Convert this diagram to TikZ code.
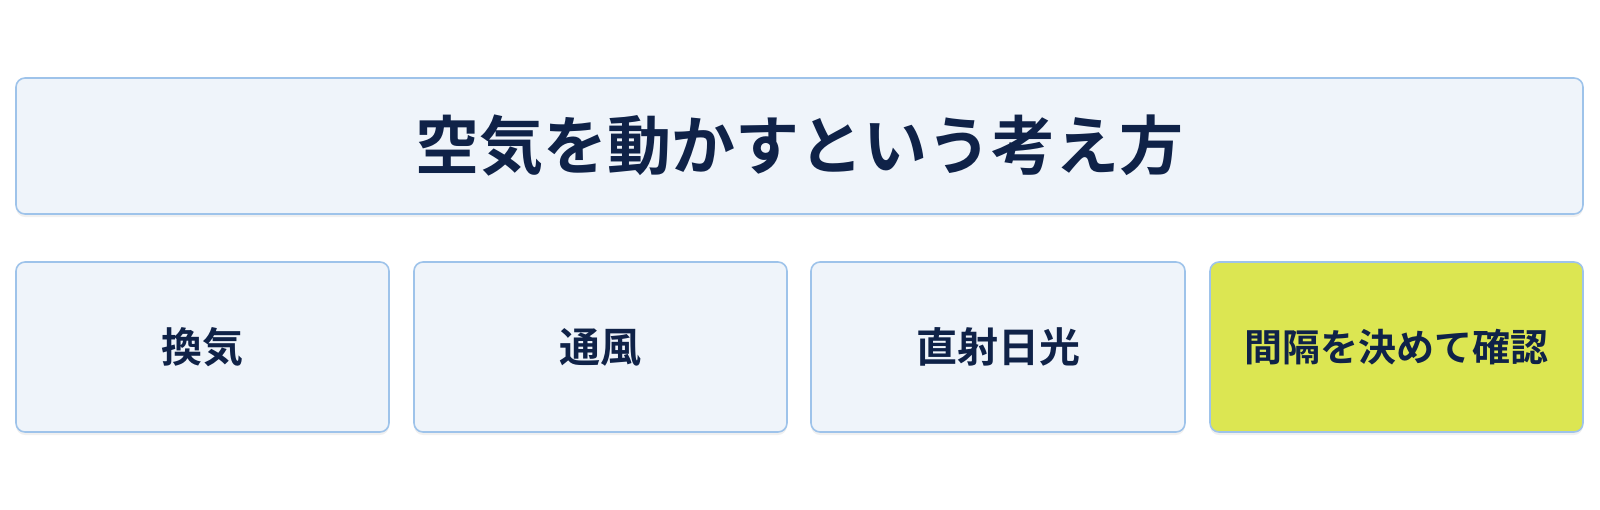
\documentclass[tikz,border=0pt]{standalone}
\usepackage{fontspec}
\newfontfamily\jp{Noto Sans CJK JP Bold}
\usetikzlibrary{shadows}
\definecolor{bordc}{RGB}{158,195,234}
\definecolor{fillc}{RGB}{239,244,250}
\definecolor{yelc}{RGB}{220,230,82}
\definecolor{txtc}{RGB}{15,34,72}
\tikzset{
  card/.style={draw=bordc, line width=1.6pt, fill=fillc, rounded corners=9pt, inner sep=0pt,
    text=txtc, font=\jp, drop shadow={shadow xshift=0pt, shadow yshift=-3pt, opacity=0.06, fill=black}},
  hi/.style={card, fill=yelc}
}
\begin{document}
\begin{tikzpicture}[x=1pt,y=-1pt]
\useasboundingbox (0,0) rectangle (1600,509);
\node[card, minimum width=1567pt, minimum height=136pt, font=\jp\fontsize{64}{68}\selectfont] (title) at (799.5,146) {空気を動かすという考え方};
\node[card, minimum width=373pt, minimum height=170pt, font=\jp\fontsize{41}{45}\selectfont] (a) at (202.5,347) {換気};
\node[card, minimum width=373pt, minimum height=170pt, font=\jp\fontsize{41}{45}\selectfont] (b) at (600.5,347) {通風};
\node[card, minimum width=374pt, minimum height=170pt, font=\jp\fontsize{41}{45}\selectfont] (c) at (998,347) {直射日光};
\node[hi, minimum width=373pt, minimum height=170pt, font=\jp\fontsize{38}{42}\selectfont] (d) at (1396.5,347) {間隔を決めて確認};
\end{tikzpicture}
\end{document}
